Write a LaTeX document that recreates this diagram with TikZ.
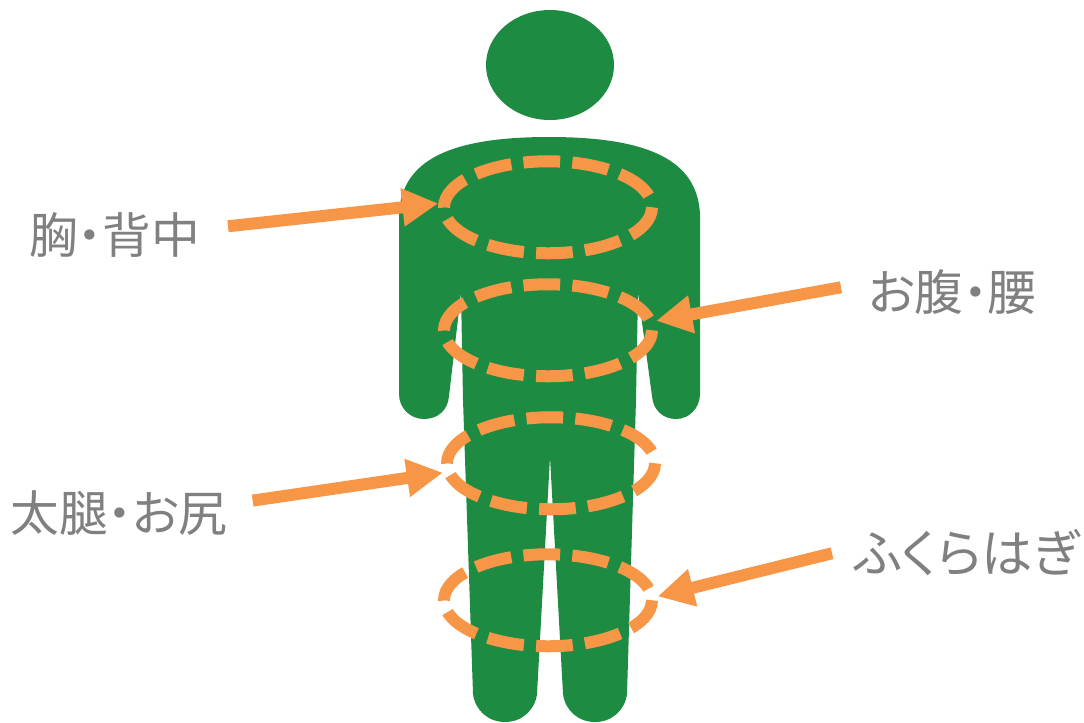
\documentclass[tikz,border=0pt]{standalone}
\usepackage{fontspec}
\newfontfamily\jpfont[RawFeature=+palt]{Noto Sans CJK JP}
\usetikzlibrary{arrows.meta, positioning, shapes.geometric}
\definecolor{figgreen}{HTML}{1E8B43}
\definecolor{ringorange}{HTML}{F79646}
\definecolor{labelgray}{HTML}{808080}

\begin{document}
\begin{tikzpicture}[
  x=0.75pt, y=-0.75pt,
  ring/.style={ellipse, draw=ringorange, line width=9pt, inner sep=0pt, outer sep=4.5pt,
               minimum width=156pt, minimum height=69pt,
               dash pattern=on 27.5pt off 9.2pt, dash phase=27.5pt},
  part/.style={font=\jpfont\fontsize{36.5}{40}\selectfont, text=labelgray, inner sep=0pt},
  pointer/.style={draw=ringorange, line width=9pt,
                  -{Triangle[length=27pt, width=27pt, fill=ringorange]}}
]
  \useasboundingbox (0,0) rectangle (1084,722);

  \node[ellipse, fill=figgreen, inner sep=0pt, minimum width=96pt, minimum height=82.5pt] (head) at (550,65) {};
  \fill[figgreen] (549,137) .. controls (648,137) and (698,160) .. (700,215)
    -- (700,394) .. controls (700,408) and (689,419) .. (676,419)
    .. controls (663,419) and (653,410) .. (652,396)
    -- (638,293) -- (636,400) -- (627,694)
    .. controls (625,710) and (612,722) .. (595,722)
    .. controls (578,722) and (565,710) .. (563,694)
    -- (550,457) -- (537,694)
    .. controls (535,710) and (522,722) .. (505,722)
    .. controls (488,722) and (475,710) .. (473,694)
    -- (463,400) -- (461,293) -- (449,396)
    .. controls (448,410) and (438,419) .. (424,419)
    .. controls (410,419) and (399,408) .. (399,394)
    -- (399,215) .. controls (401,160) and (450,137) .. (549,137) -- cycle;

  \node[ring, below=26.25pt of head, xshift=-1.5pt] (chest) {};
  \node[ring, below=14.25pt of chest] (belly) {};
  \node[ring, below=21.75pt of belly, xshift=2.25pt] (thigh) {};
  \node[ring, below=24.75pt of thigh, xshift=-2.25pt] (calf) {};

  \node[part, left=178.5pt of chest, yshift=-21pt] (chestlabel) {胸・背中};
  \node[part, right=157.5pt of belly, yshift=28.5pt] (bellylabel) {お腹・腰};
  \node[part, left=160pt of thigh, yshift=-37pt] (thighlabel) {太腿・お尻};
  \node[part, font=\jpfont\fontsize{38.5}{40}\selectfont, right=147pt of calf, yshift=36pt] (calflabel) {ふくらはぎ};

  \draw[pointer] ([shift={(28,-9)}]chestlabel.east) -- (chest.178);
  \draw[pointer] ([shift={(-27,-5)}]bellylabel.west) -- (belly.5);
  \draw[pointer] ([shift={(25,-12)}]thighlabel.east) -- (thigh.185);
  \draw[pointer] ([shift={(-22,1)}]calflabel.west) -- (calf.2);
\end{tikzpicture}
\end{document}
